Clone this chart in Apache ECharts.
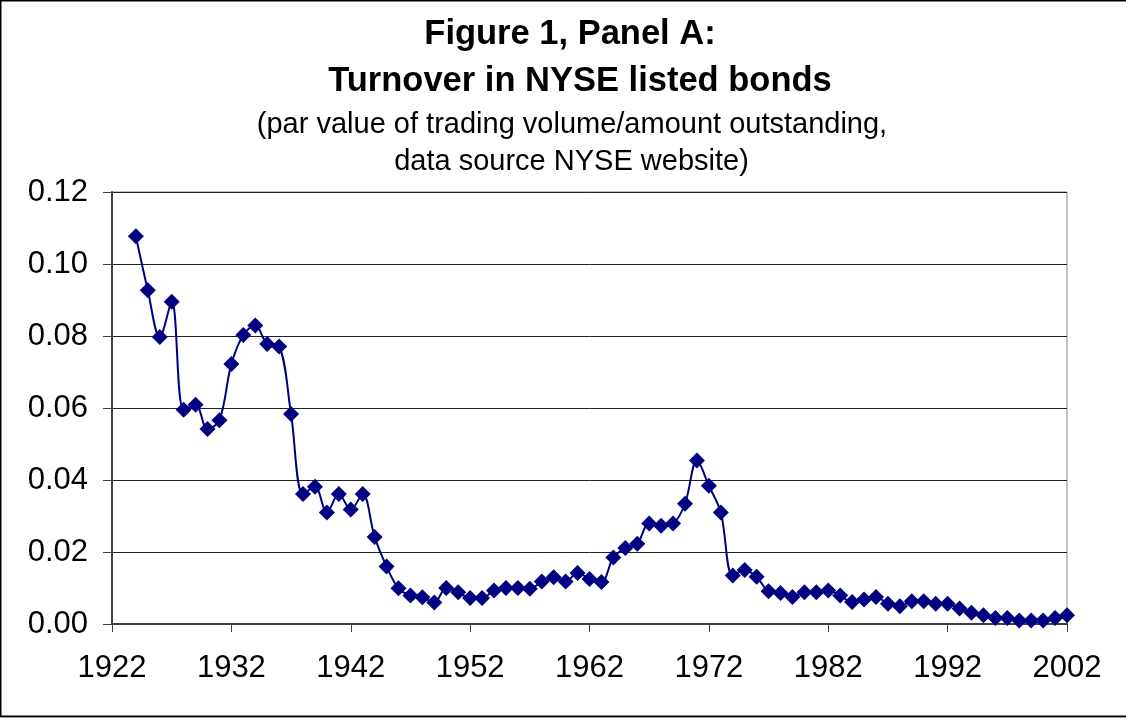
<!DOCTYPE html>
<html>
<head>
<meta charset="utf-8">
<script src="https://cdn.jsdelivr.net/npm/echarts@6/dist/echarts.min.js"></script>
<style>
html,body{margin:0;padding:0;background:#fff;}
#chart{width:1126px;height:719px;}
</style>
</head>
<body>
<div id="chart"></div>
<script>
const titleLines = ['Figure 1, Panel A:', 'Turnover in NYSE listed bonds'];
const subtitleLines = ['(par value of trading volume/amount outstanding,', 'data source NYSE website)'];
const xTicks = [1922, 1932, 1942, 1952, 1962, 1972, 1982, 1992, 2002];
const yTicks = [0, 0.02, 0.04, 0.06, 0.08, 0.10, 0.12];
const years = [1924,1925,1926,1927,1928,1929,1930,1931,1932,1933,1934,1935,1936,1937,1938,1939,1940,1941,1942,1943,1944,1945,1946,1947,1948,1949,1950,1951,1952,1953,1954,1955,1956,1957,1958,1959,1960,1961,1962,1963,1964,1965,1966,1967,1968,1969,1970,1971,1972,1973,1974,1975,1976,1977,1978,1979,1980,1981,1982,1983,1984,1985,1986,1987,1988,1989,1990,1991,1992,1993,1994,1995,1996,1997,1998,1999,2000,2001,2002];
const turnover = [0.1077,0.0927,0.0797,0.0895,0.0595,0.0609,0.0542,0.0566,0.0722,0.0803,0.0829,0.0778,0.0771,0.0583,0.0361,0.0381,0.0310,0.0361,0.0318,0.0361,0.0242,0.0160,0.0099,0.0079,0.0074,0.0060,0.0100,0.0088,0.0072,0.0072,0.0093,0.0100,0.0100,0.0098,0.0118,0.0130,0.0118,0.0142,0.0125,0.0117,0.0185,0.0211,0.0223,0.0279,0.0273,0.0279,0.0334,0.0454,0.0384,0.0310,0.0135,0.0150,0.0131,0.0091,0.0086,0.0075,0.0088,0.0088,0.0093,0.0079,0.0061,0.0068,0.0075,0.0056,0.0049,0.0063,0.0063,0.0056,0.0056,0.0043,0.0031,0.0024,0.0017,0.0017,0.0010,0.0010,0.0010,0.0017,0.0024];

const chart = echarts.init(document.getElementById('chart'), null, {renderer: 'canvas'});
const font = '"Liberation Sans", Arial, sans-serif';
chart.setOption({
  animation: false,
  backgroundColor: '#fff',
  title: [
    {text: titleLines[0], left: 570, top: 17, textAlign: 'center', padding: 0,
     textStyle: {fontFamily: font, fontWeight: 'bold', fontSize: 34.5, color: '#000'}},
    {text: titleLines[1], left: 580, top: 64, textAlign: 'center', padding: 0,
     textStyle: {fontFamily: font, fontWeight: 'bold', fontSize: 34.5, color: '#000'}},
    {text: subtitleLines[0], left: 572, top: 110, textAlign: 'center', padding: 0,
     textStyle: {fontFamily: font, fontWeight: 'normal', fontSize: 29, color: '#000'}},
    {text: subtitleLines[1], left: 571.5, top: 147, textAlign: 'center', padding: 0,
     textStyle: {fontFamily: font, fontWeight: 'normal', fontSize: 29, color: '#000'}}
  ],
  grid: {left: 112, right: 59, top: 192, bottom: 95, show: true, borderColor: '#888', borderWidth: 1, backgroundColor: '#fff'},
  xAxis: {
    type: 'value', min: xTicks[0], max: xTicks[xTicks.length - 1], interval: 10,
    axisLine: {show: true, onZero: false, lineStyle: {color: '#404040', width: 2}},
    axisTick: {show: true, length: 8, lineStyle: {color: '#404040', width: 1}},
    axisLabel: {fontFamily: font, fontSize: 31, color: '#000', margin: 29,
      formatter: v => String(v)},
    splitLine: {show: false}
  },
  yAxis: {
    type: 'value', min: yTicks[0], max: yTicks[yTicks.length - 1], interval: 0.02,
    axisLine: {show: true, lineStyle: {color: '#404040', width: 2}},
    axisTick: {show: true, length: 9, lineStyle: {color: '#404040', width: 1}},
    axisLabel: {fontFamily: font, fontSize: 31, color: '#000', margin: 24,
      formatter: v => v.toFixed(2)},
    splitLine: {show: true, lineStyle: {color: '#222', width: 1}}
  },
  series: [{
    type: 'line',
    data: years.map((y, i) => [y, turnover[i]]),
    smooth: 0.35,
    symbol: 'diamond',
    symbolSize: 16,
    showAllSymbol: true,
    lineStyle: {color: '#000080', width: 2},
    itemStyle: {color: '#000080', borderWidth: 0}
  }],
  graphic: [
    {type: 'rect', shape: {x: 0.5, y: 0.5, width: 1130, height: 716}, style: {fill: 'none', stroke: '#000', lineWidth: 2}, z: 100},
    {type: 'line', shape: {x1: 0, y1: 717.5, x2: 1126, y2: 717.5}, style: {stroke: '#999', lineWidth: 1}, z: 101}
  ]
});
</script>
</body>
</html>
